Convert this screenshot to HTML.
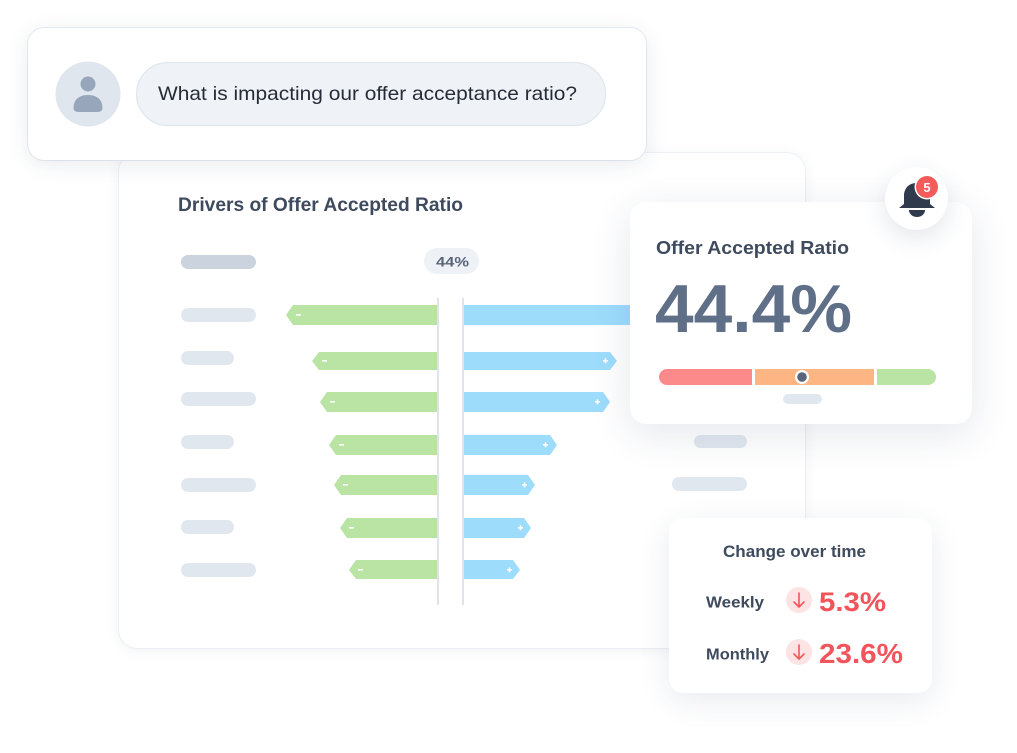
<!DOCTYPE html>
<html><head><meta charset="utf-8">
<style>
html,body{margin:0;padding:0;background:#fff;}
body{width:1017px;height:753px;position:relative;overflow:hidden;font-family:"Liberation Sans",sans-serif;}
.card{position:absolute;background:#fff;}
svg{position:absolute;left:0;top:0;overflow:visible;}
</style></head><body>

<!-- Main drivers card -->
<div class="card" style="left:119px;top:153px;width:686px;height:495px;border-radius:18px;box-shadow:0 2px 14px rgba(40,60,100,0.07),0 0 0 1px rgba(238,241,246,0.7);">
<svg width="686" height="495" viewBox="119 153 686 495">
  <text x="178" y="211" font-family="Liberation Sans" font-weight="bold" font-size="19" fill="#3e4a5d" textLength="285" lengthAdjust="spacingAndGlyphs">Drivers of Offer Accepted Ratio</text>
  <rect x="181" y="255" width="75" height="14" rx="7" fill="#cbd3df"/>
  <rect x="424" y="248" width="55" height="26" rx="13" fill="#eef2f7"/>
  <text x="436" y="266.5" font-family="Liberation Sans" font-weight="bold" font-size="14" fill="#5a6579" textLength="33" lengthAdjust="spacingAndGlyphs">44%</text>
  <g fill="#e1e7ef">
    <rect x="181" y="308" width="75" height="14" rx="7"/>
    <rect x="181" y="351" width="53" height="14" rx="7"/>
    <rect x="181" y="392" width="75" height="14" rx="7"/>
    <rect x="181" y="435" width="53" height="14" rx="7"/>
    <rect x="181" y="478" width="75" height="14" rx="7"/>
    <rect x="181" y="520" width="53" height="14" rx="7"/>
    <rect x="181" y="563" width="75" height="14" rx="7"/>
  </g>
  <rect x="694" y="435" width="53" height="13" rx="6.5" fill="#e1e7ef"/>
  <rect x="672" y="477" width="75" height="14" rx="7" fill="#e1e7ef"/>
  <g fill="#b9e4a4">
    <polygon points="286,315 293,305 438,305 438,325 293,325"/>
    <polygon points="312,361 319,352 438,352 438,370 319,370"/>
    <polygon points="320,402 327,392 438,392 438,412 327,412"/>
    <polygon points="329,445 336,435 438,435 438,455 336,455"/>
    <polygon points="334,485 341,475 438,475 438,495 341,495"/>
    <polygon points="340,528 347,518 438,518 438,538 347,538"/>
    <polygon points="349,570 356,560 438,560 438,579 356,579"/>
  </g>
  <g fill="#9edcfc">
    <rect x="463" y="305" width="180" height="20"/>
    <polygon points="463,352 610,352 617,361 610,370 463,370"/>
    <polygon points="463,392 603,392 610,402 603,412 463,412"/>
    <polygon points="463,435 550,435 557,445 550,455 463,455"/>
    <polygon points="463,475 528,475 535,485 528,495 463,495"/>
    <polygon points="463,518 524,518 531,528 524,538 463,538"/>
    <polygon points="463,560 513,560 520,570 513,579 463,579"/>
  </g>
  <rect x="437" y="298" width="2" height="307" fill="#dfe4ec"/>
  <rect x="462" y="298" width="2" height="307" fill="#dfe4ec"/>
  <g fill="#fff">
    <rect x="296" y="314" width="5" height="1.6"/>
    <rect x="322" y="360" width="5" height="1.6"/>
    <rect x="330" y="401" width="5" height="1.6"/>
    <rect x="339" y="444" width="5" height="1.6"/>
    <rect x="343" y="484" width="5" height="1.6"/>
    <rect x="349" y="527" width="5" height="1.6"/>
    <rect x="358" y="569" width="5" height="1.6"/>
  </g>
  <g fill="#fff">
    <rect x="603" y="360" width="5" height="1.6"/><rect x="604.7" y="358.3" width="1.6" height="5"/>
    <rect x="595" y="401" width="5" height="1.6"/><rect x="596.7" y="399.3" width="1.6" height="5"/>
    <rect x="543" y="444" width="5" height="1.6"/><rect x="544.7" y="442.3" width="1.6" height="5"/>
    <rect x="522" y="484" width="5" height="1.6"/><rect x="523.7" y="482.3" width="1.6" height="5"/>
    <rect x="518" y="527" width="5" height="1.6"/><rect x="519.7" y="525.3" width="1.6" height="5"/>
    <rect x="507" y="569" width="5" height="1.6"/><rect x="508.7" y="567.3" width="1.6" height="5"/>
  </g>
</svg>
</div>

<!-- Chat card -->
<div class="card" style="left:28px;top:28px;width:618px;height:132px;border-radius:16px;box-shadow:0 4px 22px rgba(40,60,100,0.10),0 0 0 1px rgba(228,234,241,0.8);">
<svg width="618" height="132" viewBox="28 28 618 132">
  <circle cx="88" cy="94" r="32.5" fill="#e0e6ee"/>
  <circle cx="88" cy="84" r="7.5" fill="#97a6bb"/>
  <path d="M73.5,108 C73.5,99 80,95 88,95 C96,95 102.5,99 102.5,108 C102.5,111 100,112 97,112 L79,112 C76,112 73.5,111 73.5,108 Z" fill="#97a6bb"/>
  <rect x="136.5" y="62.5" width="469" height="63" rx="31.5" fill="#eff3f8" stroke="#dfe6ee" stroke-width="1.2"/>
  <text x="158" y="100" font-family="Liberation Sans" font-size="19.5" fill="#262c37" textLength="419" lengthAdjust="spacingAndGlyphs">What is impacting our offer acceptance ratio?</text>
</svg>
</div>

<!-- KPI card -->
<div class="card" style="left:630px;top:202px;width:342px;height:222px;border-radius:16px;box-shadow:0 10px 40px rgba(40,60,100,0.12);">
<svg width="342" height="222" viewBox="630 202 342 222">
  <text x="656" y="254" font-family="Liberation Sans" font-weight="bold" font-size="18.5" fill="#3e4a5d" textLength="193" lengthAdjust="spacingAndGlyphs">Offer Accepted Ratio</text>
  <text x="655" y="332" font-family="Liberation Sans" font-weight="bold" font-size="68" fill="#5f6f88" textLength="197" lengthAdjust="spacingAndGlyphs">44.4%</text>
  <path d="M667,369 L752,369 L752,385 L667,385 A8,8 0 0 1 667,369 Z" fill="#fd8a8a"/>
  <rect x="755" y="369" width="119" height="16" fill="#fdb683"/>
  <path d="M877,369 L928,369 A8,8 0 0 1 928,385 L877,385 Z" fill="#b9e4a4"/>
  <circle cx="802" cy="377" r="7" fill="#fff"/>
  <circle cx="802" cy="377" r="4.8" fill="#5a6579"/>
  <rect x="783" y="394" width="39" height="10" rx="5" fill="#e1e7ef"/>
</svg>
</div>

<!-- Bell -->
<div class="card" style="left:885px;top:167px;width:63px;height:63px;border-radius:50%;box-shadow:0 8px 24px rgba(40,60,100,0.13);">
<svg width="63" height="63" viewBox="885 167 63 63">
  <path d="M904,204 L904,196 C904,188 909,183 917,183 C925,183 930,188 930,196 L930,204 L935,208 L899,208 Z" fill="#2f3a4d"/>
  <path d="M909,210 L925,210 A8,7 0 0 1 909,210 Z" fill="#2f3a4d"/>
  <circle cx="927" cy="187" r="12.5" fill="#fff"/>
  <circle cx="927" cy="187" r="11" fill="#f45b5b"/>
  <text x="927" y="192" text-anchor="middle" font-family="Liberation Sans" font-weight="bold" font-size="13" fill="#fff">5</text>
</svg>
</div>

<!-- Change card -->
<div class="card" style="left:669px;top:518px;width:263px;height:175px;border-radius:14px;box-shadow:0 8px 30px rgba(40,60,100,0.10);">
<svg width="263" height="175" viewBox="669 518 263 175">
  <text x="723" y="557" font-family="Liberation Sans" font-weight="bold" font-size="16.5" fill="#3e4a5d" textLength="143" lengthAdjust="spacingAndGlyphs">Change over time</text>
  <text x="706" y="607.5" font-family="Liberation Sans" font-weight="bold" font-size="16" fill="#3e4a5d" textLength="58" lengthAdjust="spacingAndGlyphs">Weekly</text>
  <text x="706" y="659.5" font-family="Liberation Sans" font-weight="bold" font-size="16" fill="#3e4a5d" textLength="63" lengthAdjust="spacingAndGlyphs">Monthly</text>
  <circle cx="799" cy="600" r="13" fill="#fde3e3"/>
  <circle cx="799" cy="652" r="13" fill="#fde3e3"/>
  <g stroke="#f25757" stroke-width="1.6" fill="none" stroke-linecap="round" stroke-linejoin="round">
    <path d="M799,593 L799,607 M794,602 L799,607 L804,602"/>
    <path d="M799,645 L799,659 M794,654 L799,659 L804,654"/>
  </g>
  <text x="819" y="611" font-family="Liberation Sans" font-weight="bold" font-size="27" fill="#f2545b" textLength="67" lengthAdjust="spacingAndGlyphs">5.3%</text>
  <text x="819" y="663" font-family="Liberation Sans" font-weight="bold" font-size="28" fill="#f2545b" textLength="84" lengthAdjust="spacingAndGlyphs">23.6%</text>
</svg>
</div>

</body></html>
